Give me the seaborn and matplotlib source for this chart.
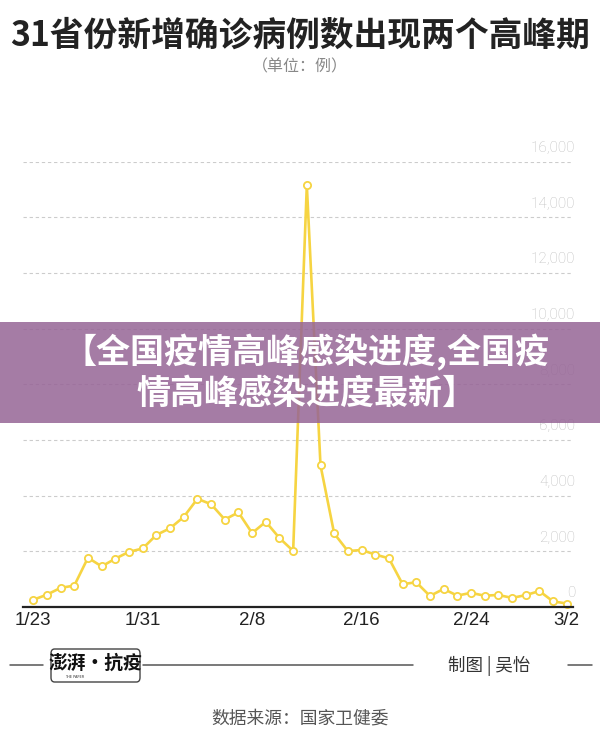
import numpy as np
import pandas as pd
import matplotlib
matplotlib.use("Agg")
import matplotlib.pyplot as plt
from matplotlib.patches import Rectangle, FancyBboxPatch
from matplotlib.lines import Line2D
import seaborn as sns

# ---------------- data ----------------
day_labels = ['1/23', '1/24', '1/25', '1/26', '1/27', '1/28', '1/29', '1/30', '1/31',
              '2/1', '2/2', '2/3', '2/4', '2/5', '2/6', '2/7', '2/8', '2/9', '2/10',
              '2/11', '2/12', '2/13', '2/14', '2/15', '2/16', '2/17', '2/18', '2/19',
              '2/20', '2/21', '2/22', '2/23', '2/24', '2/25', '2/26', '2/27', '2/28',
              '2/29', '3/1', '3/2']
new_cases = [259, 444, 688, 769, 1771, 1459, 1737, 1982, 2102, 2590, 2829, 3235,
             3887, 3694, 3143, 3399, 2656, 3062, 2478, 2015, 15152, 5090, 2641,
             2009, 2048, 1886, 1749, 820, 889, 397, 648, 409, 508, 406, 433, 327,
             427, 573, 202, 125]
x_tick_labels = ['1/23', '1/31', '2/8', '2/16', '2/24', '3/2']
y_ticks = [0, 2000, 4000, 6000, 8000, 10000, 12000, 14000, 16000]

title = '31省份新增确诊病例数出现两个高峰期'
subtitle = '（单位：例）'
banner_text = '【全国疫情高峰感染进度,全国疫\n情高峰感染进度最新】'
credit = '制图 | 吴怡'
source = '数据来源：国家卫健委'
logo = '澎湃·抗疫'

df = pd.DataFrame({'day': np.arange(len(day_labels)), 'label': day_labels,
                   'cases': new_cases})

# ---------------- style ----------------
sns.set_theme(style='white')
plt.rcParams['font.family'] = ['Noto Sans CJK SC', 'DejaVu Sans']

W, H = 600, 743
fig = plt.figure(figsize=(W / 100, H / 100), dpi=100, facecolor='white')

def fx(px):
    return px / W

def fy(py):
    return 1 - py / H

ax = fig.add_axes([fx(23), fy(607), fx(573) - fx(23), fy(161.7) - fy(607)])
ax.set_facecolor('white')

yellow = '#f6d442'
sns.lineplot(data=df, x='day', y='cases', ax=ax, color=yellow, linewidth=1.9,
             marker='o', markersize=5.2, markerfacecolor='white',
             markeredgecolor=yellow, markeredgewidth=1.3, clip_on=False, zorder=3)

ax.set_xlim(-0.75, 39.46)
ax.set_ylim(0, 16000)

# grid
ax.set_yticks(y_ticks)
ax.set_yticklabels([])
ax.tick_params(axis='y', length=0)
ax.yaxis.grid(True, color='#cccccc', linestyle=(0, (3, 2.5)), linewidth=0.8)
ax.xaxis.grid(False)

# y labels above gridlines
for v in y_ticks:
    ax.annotate(f'{v:,}', xy=(1.0, v), xycoords=('axes fraction', 'data'),
                xytext=(1.5, 9.8), textcoords='offset points', ha='right',
                va='center', fontsize=11, color='#bdbdbd',
                family=['Roboto', 'DejaVu Sans'], fontweight='light', zorder=2)

# x ticks
day_pos = [day_labels.index(l) for l in x_tick_labels]
ax.set_xticks(day_pos)
ax.set_xticklabels(x_tick_labels, fontsize=13.5, color='#222222',
                   family=['Liberation Sans', 'DejaVu Sans'])
ax.tick_params(axis='x', length=0, pad=3.5)
ax.set_xlabel('')
ax.set_ylabel('')

for s in ['top', 'left', 'right']:
    ax.spines[s].set_visible(False)
ax.spines['bottom'].set_color('#222222')
ax.spines['bottom'].set_linewidth(1.6)
ax.spines['bottom'].set_zorder(4)

# ---------------- titles ----------------
fig.text(0.5, fy(35), title, ha='center', va='center', fontsize=24.3,
         fontweight='bold', color='#222222')
fig.text(0.5, fy(67), subtitle, ha='center', va='center', fontsize=11.5,
         color='#888888')

# ---------------- banner ----------------
fig.add_artist(Rectangle((0, fy(423)), 1, fy(322) - fy(423),
                         transform=fig.transFigure, facecolor='#966596',
                         alpha=0.85, edgecolor='none', zorder=5))
fig.text(fx(306), fy(372.5), banner_text, ha='center', va='center',
         fontsize=24.5, fontweight='heavy', color='white', zorder=6,
         linespacing=1.2, multialignment='center')

# ---------------- footer ----------------
line_col = '#555555'
for x0, x1 in [(10, 43), (143, 413), (568, 592)]:
    fig.add_artist(Line2D([fx(x0), fx(x1)], [fy(665), fy(665)],
                          transform=fig.transFigure, color=line_col, lw=1.1))
fig.add_artist(FancyBboxPatch((fx(51), fy(682)), fx(140) - fx(51),
                              fy(649) - fy(682),
                              boxstyle='round,pad=0,rounding_size=0.006',
                              transform=fig.transFigure, facecolor='white',
                              edgecolor='#444444', lw=1.0))
fig.text(fx(95.5), fy(663), logo, ha='center', va='center', fontsize=13.5,
         color='#111111', fontweight='bold')
fig.text(fx(75), fy(677), 'THE PAPER', ha='center', va='center', fontsize=2.5,
         color='#333333', family=['DejaVu Sans'])
fig.text(fx(489), fy(666), credit, ha='center', va='center', fontsize=12.6,
         color='#333333')
fig.text(0.5, fy(718), source, ha='center', va='center', fontsize=12.8,
         color='#555555')

fig.savefig('out.png', dpi=100, facecolor='white')
